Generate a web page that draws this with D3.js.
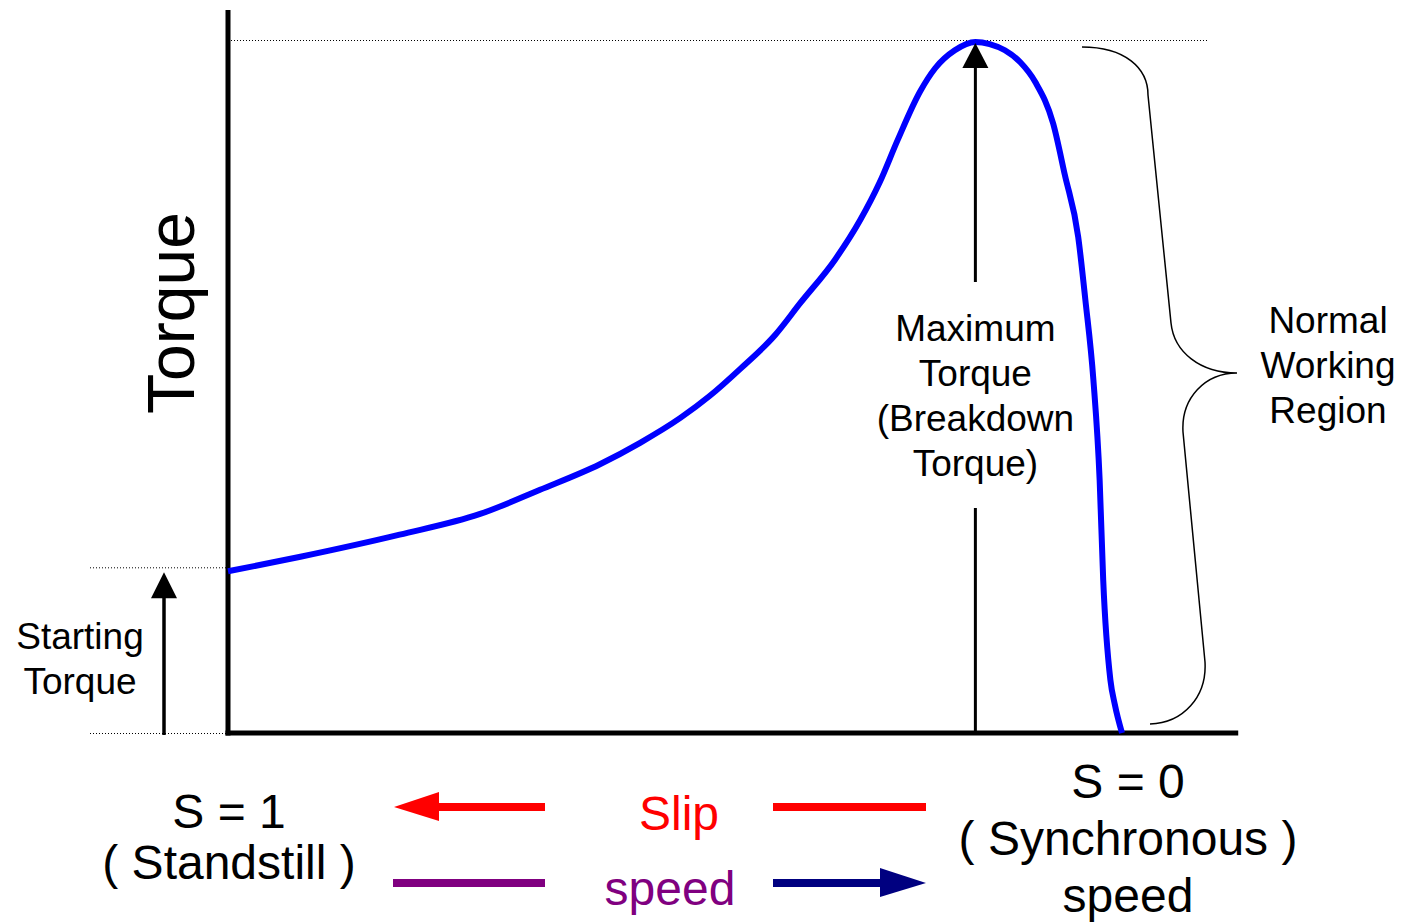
<!DOCTYPE html>
<meta charset="utf-8">
<head>
<title>Induction Motor Torque-Speed Curve</title>
<script src="https://cdn.jsdelivr.net/npm/d3@7/dist/d3.min.js"></script>
<style>
body { margin: 0; background: #fff; }
text { font-family: "Liberation Sans", Arial, sans-serif; fill: #000; }
</style>
</head>
<body>
<script>
// Speed as fraction of synchronous speed (0 = standstill, 1 = synchronous)
const speed = [0, 0.081, 0.192, 0.282, 0.349, 0.416, 0.461, 0.506, 0.539, 0.573,
  0.612, 0.640, 0.679, 0.707, 0.729, 0.749, 0.774, 0.791, 0.813, 0.836,
  0.852, 0.869, 0.886, 0.903, 0.923, 0.936, 0.951, 0.959, 0.968, 0.975,
  0.979, 0.987, 0.992, 1.0];
// Torque as fraction of breakdown torque
const torque = [0.234, 0.255, 0.287, 0.317, 0.352, 0.389, 0.420, 0.456, 0.488, 0.527,
  0.576, 0.622, 0.685, 0.742, 0.797, 0.858, 0.928, 0.962, 0.988, 1.0,
  0.997, 0.988, 0.971, 0.942, 0.882, 0.808, 0.718, 0.627, 0.511, 0.366,
  0.221, 0.077, 0.041, 0];

const maxTorqueLabel = ["Maximum", "Torque", "(Breakdown", "Torque)"];
const startTorqueLabel = ["Starting", "Torque"];
const regionLabel = ["Normal", "Working", "Region"];

const width = 1401, height = 923;

const svg = d3.select("body").append("svg")
    .attr("width", width)
    .attr("height", height);

const x = d3.scaleLinear().domain([0, 1]).range([228, 1122]);
const y = d3.scaleLinear().domain([0, 1]).range([733, 42]);

const points = speed.map((s, i) => [s, torque[i]]);
const iMax = d3.maxIndex(torque);
const startT = torque[0];

// dotted guide lines
const dotted = (x1, x2, yy) => svg.append("line")
    .attr("x1", x1).attr("x2", x2).attr("y1", yy).attr("y2", yy)
    .attr("stroke", "#000").attr("stroke-width", 1)
    .attr("stroke-dasharray", "1,2");
dotted(x(0) + 3, 1207, y(1) - 1.5);
dotted(90, x(0), y(startT) - 3.5);
dotted(90, x(0), y(0) + 0.5);

// axes
svg.append("line")
    .attr("x1", x(0)).attr("x2", x(0))
    .attr("y1", 10).attr("y2", y(0) + 2.5)
    .attr("stroke", "#000").attr("stroke-width", 5);
svg.append("line")
    .attr("x1", x(0) - 2.5).attr("x2", x(1.13))
    .attr("y1", y(0)).attr("y2", y(0))
    .attr("stroke", "#000").attr("stroke-width", 5);

// curve
const line = d3.line()
    .x(d => x(d[0]))
    .y(d => y(d[1]))
    .curve(d3.curveMonotoneX);
svg.append("path")
    .datum(points)
    .attr("d", line)
    .attr("fill", "none")
    .attr("stroke", "#0000ff")
    .attr("stroke-width", 6);

// vertical arrow helper
function vArrow(cx, yTop, yBottom, hw, hh, sw) {
    svg.append("line")
        .attr("x1", cx).attr("x2", cx)
        .attr("y1", yTop + hh - 1).attr("y2", yBottom)
        .attr("stroke", "#000").attr("stroke-width", sw);
    svg.append("path")
        .attr("d", `M${cx},${yTop} L${cx + hw},${yTop + hh} L${cx - hw},${yTop + hh} Z`)
        .attr("fill", "#000");
}

// breakdown torque arrow (split around label)
const xm = x(speed[iMax]);
vArrow(xm, y(1) + 1, 282, 13, 25, 3);
svg.append("line")
    .attr("x1", xm).attr("x2", xm)
    .attr("y1", 508).attr("y2", y(0))
    .attr("stroke", "#000").attr("stroke-width", 3);

// starting torque arrow
vArrow(164, y(startT) + 1, y(0) + 2, 13, 26, 3.5);

// brace for normal working region
svg.append("path")
    .attr("d", "M1082,47 C1125,47 1148,68 1148,95 L1171,323 C1174,352 1200,373 1237,373 " +
               "C1205,373 1181,398 1183,432 L1205,662 C1207,697 1183,723 1150,724")
    .attr("fill", "none")
    .attr("stroke", "#000")
    .attr("stroke-width", 1.5);

// labels
function lines(arr, cx, y0, dy, size, color) {
    const t = svg.append("text")
        .attr("text-anchor", "middle")
        .style("font-size", size + "px")
        .style("fill", color || "#000");
    arr.forEach((s, i) => {
        t.append("tspan").attr("x", cx).attr("y", y0 + i * dy).text(s);
    });
}

svg.append("text")
    .attr("transform", "translate(194,313) rotate(-90)")
    .attr("text-anchor", "middle")
    .style("font-size", "66px")
    .text("Torque");

lines(maxTorqueLabel, xm, 341, 45, 37);
lines(regionLabel, 1328, 333, 45, 37);
lines(startTorqueLabel, 80, 649, 45, 37);

lines(["S = 1", "( Standstill )"], 229, 828, 51, 48);
lines(["S = 0", "( Synchronous )", "speed"], 1128, 798, 57, 48);
lines(["Slip"], 679, 830, 0, 48, "#ff0000");
lines(["speed"], 670, 905, 0, 48, "#800080");

// slip / speed direction arrows
function hLine(x1, x2, yy, color) {
    svg.append("line")
        .attr("x1", x1).attr("x2", x2).attr("y1", yy).attr("y2", yy)
        .attr("stroke", color).attr("stroke-width", 8);
}
hLine(437, 545, 807, "#ff0000");
svg.append("path")
    .attr("d", "M394,807 L439,792 L439,821 Z")
    .attr("fill", "#ff0000");
hLine(773, 926, 807, "#ff0000");

hLine(393, 545, 883, "#800080");
hLine(773, 882, 883, "#000080");
svg.append("path")
    .attr("d", "M926,883 L880,868 L880,897 Z")
    .attr("fill", "#000080");
</script>
</body>
</html>
